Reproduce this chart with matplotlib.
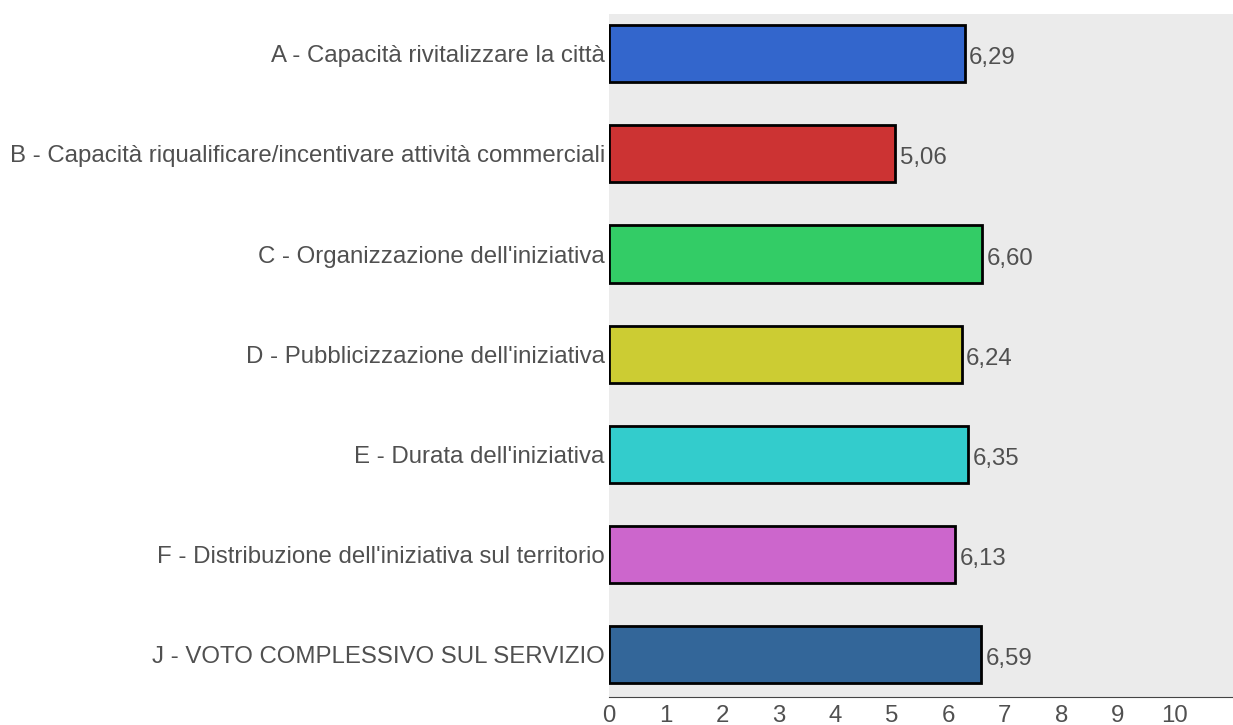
import matplotlib
matplotlib.use("Agg")
import matplotlib.pyplot as plt

categories = [
    "A - Capacità rivitalizzare la città",
    "B - Capacità riqualificare/incentivare attività commerciali",
    "C - Organizzazione dell'iniziativa",
    "D - Pubblicizzazione dell'iniziativa",
    "E - Durata dell'iniziativa",
    "F - Distribuzione dell'iniziativa sul territorio",
    "J - VOTO COMPLESSIVO SUL SERVIZIO",
]
values = [6.29, 5.06, 6.60, 6.24, 6.35, 6.13, 6.59]
colors = ["#3366cc", "#cc3333", "#33cc66", "#cccc33", "#33cccc", "#cc66cc", "#336699"]
xticks = list(range(0, 11))

plt.rcParams['font.family'] = ['Liberation Sans', 'DejaVu Sans']
text_color = "#505050"
fs = 17.3

fig = plt.figure(figsize=(12.33, 7.25), dpi=100)
ax = fig.add_axes([609/1233, 28/725, 1 - 609/1233, (697-14)/725])
ax.set_facecolor("#ebebeb")

y = list(range(len(categories)))
ax.barh(y, values, height=0.57, color=colors, edgecolor="black", linewidth=2, zorder=2)
for yi, v in zip(y, values):
    ax.text(v + 0.08, yi + 0.02, f"{v:.2f}".replace(".", ","), va="center_baseline", ha="left",
            fontsize=fs, color=text_color, zorder=3)

ax.set_xlim(0, 11.04)
ax.set_ylim(6.42, -0.395)
ax.set_yticks(y)
ax.set_yticklabels(categories, fontsize=fs, color=text_color)
ax.set_xticks(xticks)
ax.set_xticklabels([str(t) for t in xticks], fontsize=fs, color=text_color)
ax.tick_params(axis="both", length=0)
ax.tick_params(axis="y", pad=3)
ax.tick_params(axis="x", pad=6)
for s in ["top", "right", "left"]:
    ax.spines[s].set_visible(False)
ax.spines["bottom"].set_color("#444444")
ax.spines["bottom"].set_linestyle((0, (1, 1)))
ax.spines["bottom"].set_linewidth(0.8)

fig.savefig("out.png", dpi=100)
